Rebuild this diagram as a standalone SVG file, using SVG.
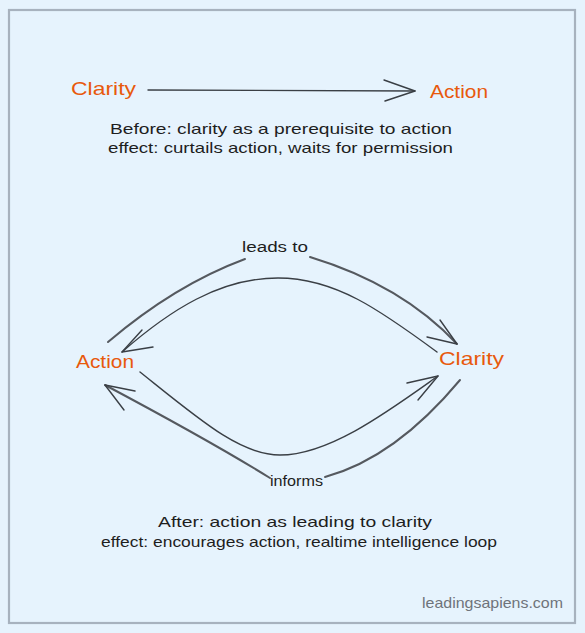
<svg xmlns="http://www.w3.org/2000/svg" width="585" height="633" viewBox="0 0 585 633">
<style>
.bg{fill:#e6f3fd}
.frame{fill:none;stroke:#a7b2be;stroke-width:2.2}
.node{font-family:"Liberation Sans","DejaVu Sans",sans-serif;font-size:19px;fill:#e8590c}
.cap{font-family:"Liberation Sans","DejaVu Sans",sans-serif;font-size:15px;fill:#1e1e1e}
.lbl{font-family:"Liberation Sans","DejaVu Sans",sans-serif;font-size:14px;fill:#1e1e1e}
.wm{font-family:"Liberation Sans","Helvetica",sans-serif;font-size:15px;fill:#6f737a}
.edge{fill:none;stroke:#3a3f45;stroke-width:1.4;stroke-linecap:round;stroke-linejoin:round}
.soft{stroke:#55595f;stroke-width:2}
</style>
<rect class="bg" x="0" y="0" width="585" height="633"/>
<rect class="frame" x="9" y="10" width="566" height="613"/>

<g id="top-clarity"><text class="node" x="71" y="95" textLength="65" lengthAdjust="spacingAndGlyphs">Clarity</text></g>
<g id="top-action"><text class="node" x="430" y="98" textLength="58" lengthAdjust="spacingAndGlyphs">Action</text></g>
<g id="caption-before">
<text class="cap" x="110" y="134" textLength="342" lengthAdjust="spacingAndGlyphs">Before: clarity as a prerequisite to action</text>
<text class="cap" x="108" y="153" textLength="345" lengthAdjust="spacingAndGlyphs">effect: curtails action, waits for permission</text>
</g>

<g id="loop-action"><text class="node" x="76" y="368" textLength="58" lengthAdjust="spacingAndGlyphs">Action</text></g>
<g id="loop-clarity"><text class="node" x="439" y="365" textLength="65" lengthAdjust="spacingAndGlyphs">Clarity</text></g>
<g id="label-leads"><text class="lbl" x="242" y="252" textLength="66" lengthAdjust="spacingAndGlyphs">leads to</text></g>
<g id="label-informs"><text class="lbl" x="270" y="486" textLength="53" lengthAdjust="spacingAndGlyphs">informs</text></g>
<g id="caption-after">
<text class="cap" x="158" y="527" textLength="274" lengthAdjust="spacingAndGlyphs">After: action as leading to clarity</text>
<text class="cap" x="101" y="547" textLength="396" lengthAdjust="spacingAndGlyphs">effect: encourages action, realtime intelligence loop</text>
</g>
<g id="watermark"><text class="wm" x="422" y="608" textLength="141" lengthAdjust="spacingAndGlyphs">leadingsapiens.com</text></g>

<g id="connectors">
<!-- before: clarity -> action -->
<path class="edge" d="M148,90 L415,91"/>
<path class="edge" d="M384,80 L415,91 L385,101"/>
<!-- leads to: action -> clarity (outer top) -->
<path class="edge soft" d="M108,342 Q175,285 245,259"/>
<path class="edge soft" d="M310,257 Q402,285 457,344"/>
<path class="edge" d="M440,320 L457,344 L427,337"/>
<!-- inner top: clarity -> action -->
<path class="edge" d="M437,352 C380,310 335,278 278,278 C220,278 170,310 122,352"/>
<path class="edge" d="M142,330 L122,352 L153,347"/>
<!-- inner bottom: action -> clarity -->
<path class="edge" d="M140,372 C200,420 240,455 280,455 C330,455 390,410 438,376"/>
<path class="edge" d="M407,383 L438,376 L418,400"/>
<!-- informs: clarity -> action (outer bottom) -->
<path class="edge soft" d="M460,380 Q395,458 325,477"/>
<path class="edge soft" d="M270,478 Q212,442 105,385"/>
<path class="edge" d="M135,391 L105,385 L124,410"/>
</g>
</svg>
